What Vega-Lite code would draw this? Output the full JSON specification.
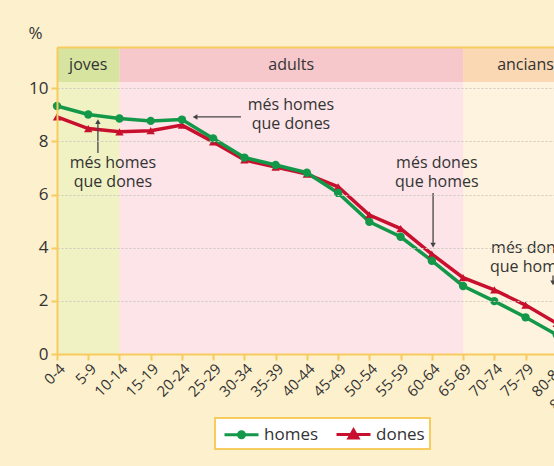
{
  "$schema": "https://vega.github.io/schema/vega-lite/v6.json",
  "width": 497,
  "height": 307,
  "autosize": {"type": "none"},
  "padding": {"left": 57, "top": 47, "right": 0, "bottom": 112},
  "background": "#FDF0CD",
  "config": {"view": {"stroke": null}, "font": "Open Sans"},
  "datasets": {
    "serie": [
      {"edat": "0-4", "sexe": "dones", "pct": 8.92},
      {"edat": "5-9", "sexe": "dones", "pct": 8.48},
      {"edat": "10-14", "sexe": "dones", "pct": 8.36},
      {"edat": "15-19", "sexe": "dones", "pct": 8.40},
      {"edat": "20-24", "sexe": "dones", "pct": 8.61},
      {"edat": "25-29", "sexe": "dones", "pct": 7.98},
      {"edat": "30-34", "sexe": "dones", "pct": 7.30},
      {"edat": "35-39", "sexe": "dones", "pct": 7.03},
      {"edat": "40-44", "sexe": "dones", "pct": 6.77},
      {"edat": "45-49", "sexe": "dones", "pct": 6.29},
      {"edat": "50-54", "sexe": "dones", "pct": 5.23},
      {"edat": "55-59", "sexe": "dones", "pct": 4.72},
      {"edat": "60-64", "sexe": "dones", "pct": 3.76},
      {"edat": "65-69", "sexe": "dones", "pct": 2.87},
      {"edat": "70-74", "sexe": "dones", "pct": 2.41},
      {"edat": "75-79", "sexe": "dones", "pct": 1.84},
      {"edat": "80-84", "sexe": "dones", "pct": 1.15},
      {"edat": "85 i més", "sexe": "dones", "pct": 1.2},
      {"edat": "0-4", "sexe": "homes", "pct": 9.33},
      {"edat": "5-9", "sexe": "homes", "pct": 9.01},
      {"edat": "10-14", "sexe": "homes", "pct": 8.86},
      {"edat": "15-19", "sexe": "homes", "pct": 8.77},
      {"edat": "20-24", "sexe": "homes", "pct": 8.82},
      {"edat": "25-29", "sexe": "homes", "pct": 8.11},
      {"edat": "30-34", "sexe": "homes", "pct": 7.39},
      {"edat": "35-39", "sexe": "homes", "pct": 7.11},
      {"edat": "40-44", "sexe": "homes", "pct": 6.82},
      {"edat": "45-49", "sexe": "homes", "pct": 6.06},
      {"edat": "50-54", "sexe": "homes", "pct": 4.97},
      {"edat": "55-59", "sexe": "homes", "pct": 4.41},
      {"edat": "60-64", "sexe": "homes", "pct": 3.51},
      {"edat": "65-69", "sexe": "homes", "pct": 2.56},
      {"edat": "70-74", "sexe": "homes", "pct": 1.99},
      {"edat": "75-79", "sexe": "homes", "pct": 1.38},
      {"edat": "80-84", "sexe": "homes", "pct": 0.72},
      {"edat": "85 i més", "sexe": "homes", "pct": 0.45}
    ],
    "bands": [
      {"clau": "joves-cos", "x0": 0, "x1": 2, "y0": 0, "y1": 10.23},
      {"clau": "joves-cap", "x0": 0, "x1": 2, "y0": 10.23, "y1": 11.55},
      {"clau": "adults-cos", "x0": 2, "x1": 13, "y0": 0, "y1": 10.23},
      {"clau": "adults-cap", "x0": 2, "x1": 13, "y0": 10.23, "y1": 11.55},
      {"clau": "ancians-cos", "x0": 13, "x1": 17, "y0": 0, "y1": 10.23},
      {"clau": "ancians-cap", "x0": 13, "x1": 17, "y0": 10.23, "y1": 11.55}
    ],
    "capcaleres": [
      {"t": "joves", "x": 1.0, "y": 10.88},
      {"t": "adults", "x": 7.5, "y": 10.88},
      {"t": "ancians", "x": 15.0, "y": 10.88}
    ],
    "textos": [
      {"t": "més homes\nque dones", "x": 1.79, "y": 7.19},
      {"t": "més homes\nque dones", "x": 7.49, "y": 9.37},
      {"t": "més dones\nque homes", "x": 12.16, "y": 7.19},
      {"t": "més dones\nque homes", "x": 15.2, "y": 3.99}
    ],
    "fletxes": [
      {"x": 1.31, "y": 7.56, "x2": 1.31, "y2": 8.72},
      {"x": 5.89, "y": 8.92, "x2": 4.42, "y2": 8.92},
      {"x": 12.04, "y": 6.06, "x2": 12.04, "y2": 4.1},
      {"x": 15.88, "y": 2.95, "x2": 15.88, "y2": 2.7}
    ],
    "puntes": [
      {"x": 1.31, "y": 8.74, "dir": "triangle-up"},
      {"x": 4.42, "y": 8.92, "dir": "triangle-left"},
      {"x": 12.04, "y": 4.1, "dir": "triangle-down"},
      {"x": 15.88, "y": 2.68, "dir": "triangle-down"}
    ]
  },
  "layer": [
    {
      "data": {"name": "bands"},
      "mark": {"type": "rect"},
      "encoding": {
        "x": {"field": "x0", "type": "quantitative",
          "scale": {"domain": [0, 17], "range": [0, 531], "nice": false, "zero": false},
          "axis": null},
        "x2": {"field": "x1"},
        "y": {"field": "y0", "type": "quantitative",
          "scale": {"domain": [0, 11.55], "nice": false, "zero": false},
          "axis": null},
        "y2": {"field": "y1"},
        "fill": {"field": "clau", "type": "nominal",
          "scale": {"domain": ["joves-cos", "joves-cap", "adults-cos", "adults-cap", "ancians-cos", "ancians-cap"],
            "range": ["#F0F2C4", "#D6E4A0", "#FCE4E8", "#F6C8CC", "#FEF3DE", "#FAD8B4"]},
          "legend": null}
      }
    },
    {
      "data": {"name": "serie"},
      "encoding": {
        "x": {"field": "edat", "type": "ordinal", "sort": null,
          "scale": {"type": "point", "domain": ["0-4", "5-9", "10-14", "15-19", "20-24", "25-29", "30-34", "35-39", "40-44", "45-49", "50-54", "55-59", "60-64", "65-69", "70-74", "75-79", "80-84", "85 i més"], "range": [0, 531], "padding": 0},
          "axis": {"title": null, "labelAngle": -45, "labelFontSize": 15, "labelColor": "#333333", "labelFont": "Open Sans",
            "domainColor": "#F7CB5E", "domainWidth": 2, "tickColor": "#F7CB5E", "tickWidth": 2, "tickSize": 6, "labelPadding": 1, "grid": false, "zindex": 1}},
        "y": {"field": "pct", "type": "quantitative",
          "axis": {"title": "%", "titleAngle": 0, "titleX": -22, "titleY": -14, "titleAlign": "center", "titleBaseline": "middle",
            "titleFontSize": 17, "titleFontWeight": "normal", "titleColor": "#333333", "titleFont": "Open Sans",
            "values": [0, 2, 4, 6, 8, 10], "grid": true, "gridColor": "#CFC8C0", "gridDash": [2, 2], "gridWidth": 1,
            "domainColor": "#F7CB5E", "domainWidth": 2, "tickColor": "#F7CB5E", "tickWidth": 2, "tickSize": 6,
            "labelFontSize": 17, "labelColor": "#333333", "labelFont": "Open Sans", "labelPadding": 3, "zindex": 1}},
        "color": {"field": "sexe", "type": "nominal",
          "scale": {"domain": ["homes", "dones"], "range": ["#13984A", "#C8102E"]},
          "legend": {"title": null, "orient": "none", "legendX": 158, "legendY": 371, "direction": "horizontal",
            "fillColor": "#FFFFFF", "strokeColor": "#F7CB5E", "padding": 5,
            "symbolSize": 400, "symbolOffset": 10, "labelOffset": 11, "columnPadding": 11,
            "labelFontSize": 17, "labelColor": "#333333", "labelFont": "Open Sans",
            "encode": {
              "symbols": {"update": {
                "shape": {"signal": "datum.value === 'homes' ? 'M-1.7,0H1.7M0.3,0A0.3,0.3,0,1,1,-0.3,0A0.3,0.3,0,1,1,0.3,0Z' : 'M-1.7,0H1.7M0,-0.45L0.45,0.35L-0.45,0.35Z'"},
                "fill": {"signal": "datum.value === 'homes' ? '#13984A' : '#C8102E'"},
                "stroke": {"signal": "datum.value === 'homes' ? '#13984A' : '#C8102E'"},
                "strokeWidth": {"value": 3},
                "opacity": {"value": 1}
              }},
              "legend": {"update": {"strokeWidth": {"value": 2}}}
            }}}
      },
      "layer": [
        {"mark": {"type": "line", "strokeWidth": 3.5}},
        {"mark": {"type": "point", "filled": true, "opacity": 1, "size": 70},
          "encoding": {"shape": {"field": "sexe", "type": "nominal", "scale": {"domain": ["homes", "dones"], "range": ["circle", "triangle-up"]}, "legend": null}}}
      ]
    },
    {
      "layer": [
        {
          "data": {"name": "capcaleres"},
          "mark": {"type": "text", "fontSize": 16, "font": "Open Sans", "color": "#333333", "baseline": "middle", "align": "center"},
          "encoding": {
            "x": {"field": "x", "type": "quantitative", "scale": {"domain": [0, 17], "range": [0, 531], "nice": false, "zero": false},
              "axis": {"orient": "top", "domainColor": "#F7CB5E", "domainWidth": 2, "ticks": false, "labels": false, "grid": false, "title": null, "zindex": 1}},
            "y": {"field": "y", "type": "quantitative", "axis": null},
            "text": {"field": "t"}
          }
        },
        {
          "data": {"name": "textos"},
          "mark": {"type": "text", "fontSize": 16, "font": "Open Sans", "color": "#333333", "baseline": "middle", "align": "center", "lineBreak": "\n", "lineHeight": 19},
          "encoding": {
            "x": {"field": "x", "type": "quantitative"},
            "y": {"field": "y", "type": "quantitative", "axis": null},
            "text": {"field": "t"}
          }
        },
        {
          "data": {"name": "fletxes"},
          "mark": {"type": "rule", "color": "#444444", "strokeWidth": 1.3},
          "encoding": {
            "x": {"field": "x", "type": "quantitative"},
            "y": {"field": "y", "type": "quantitative", "axis": null},
            "x2": {"field": "x2"},
            "y2": {"field": "y2"}
          }
        },
        {
          "data": {"name": "puntes"},
          "mark": {"type": "point", "filled": true, "opacity": 1, "color": "#444444", "size": 30},
          "encoding": {
            "x": {"field": "x", "type": "quantitative"},
            "y": {"field": "y", "type": "quantitative", "axis": null},
            "shape": {"field": "dir", "type": "nominal", "scale": null}
          }
        }
      ]
    }
  ],
  "resolve": {"scale": {"x": "independent", "shape": "independent"}, "axis": {"y": "independent"}}
}
